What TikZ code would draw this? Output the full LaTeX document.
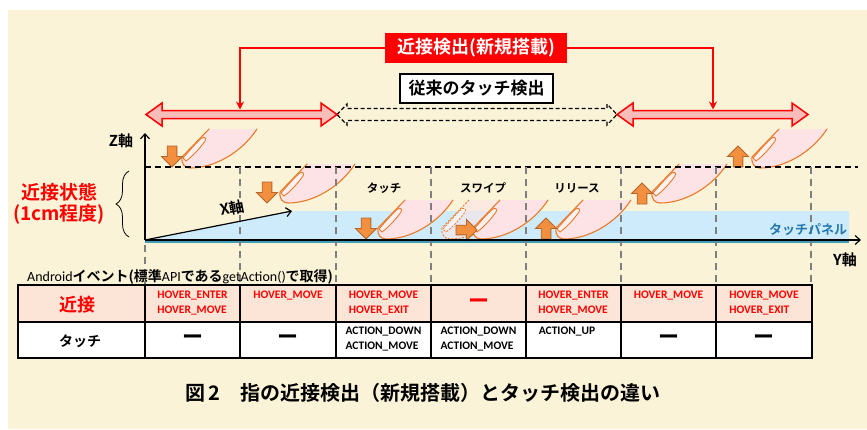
\documentclass[tikz,border=0pt]{standalone}
\usepackage{fontspec}
\setmainfont{Carlito}
\newfontfamily\jp{Noto Sans CJK JP}[BoldFont={* Bold}]
\usetikzlibrary{arrows.meta,decorations.pathreplacing}

\definecolor{cream}{HTML}{FBF3D8}
\definecolor{panelblue}{HTML}{CDEBFB}
\definecolor{panelline}{HTML}{3F9DB8}
\definecolor{paneltext}{HTML}{2378AD}
\definecolor{fingerpink}{HTML}{FDE3E6}
\definecolor{fingerline}{HTML}{EB7A28}
\definecolor{arroworange}{HTML}{F2903F}
\definecolor{arrowedge}{HTML}{B5652A}
\definecolor{peach}{HTML}{FCE4D6}
\definecolor{hatchpink}{HTML}{F8BDB8}
\definecolor{gridgray}{HTML}{7F7F7F}

\newcommand\pxfont[1]{\fontsize{#1}{#1}\selectfont}

\tikzset{
  pics/finger/.style={code={
    \fill[fingerpink] (-8,-11) -- (19,-39) -- (67,-39) .. controls (52,-16) and (25,0) .. (0,0)
      .. controls (-5,0) and (-9,-4) .. (-8,-11) -- cycle;
    \draw[fingerline, line width=1.1pt, line join=round, line cap=round]
      (19,-39) -- (-8,-11) .. controls (-9,-4) and (-5,0) .. (0,0) .. controls (25,0) and (52,-16) .. (67,-39);
    \draw[fingerline, line width=0.9pt, fill=fingerpink!50!white]
      (-7,-10) .. controls (0,-18) and (7,-26) .. (11,-29.5) .. controls (14,-32) and (17,-30) .. (15,-27)
      .. controls (10,-20) and (3,-12) .. (-4,-7) -- cycle;
  }},
  pics/ghostfinger/.style={code={
    \fill[fingerpink, fill opacity=0.6] (-8,-11) -- (19,-39) -- (67,-39) .. controls (52,-16) and (25,0) .. (0,0)
      .. controls (-5,0) and (-9,-4) .. (-8,-11) -- cycle;
    \draw[fingerline, line width=0.9pt, dash pattern=on 2pt off 1.5pt]
      (19,-39) -- (-8,-11) .. controls (-9,-4) and (-5,0) .. (0,0) .. controls (25,0) and (52,-16) .. (67,-39);
    \draw[fingerline, line width=0.8pt, dash pattern=on 2pt off 1.5pt, fill=white, fill opacity=0.5]
      (-7,-10) .. controls (0,-18) and (7,-26) .. (11,-29.5) .. controls (14,-32) and (17,-30) .. (15,-27)
      .. controls (10,-20) and (3,-12) .. (-4,-7) -- cycle;
  }},
  pics/pushdown/.style={code={
    \draw[fill=arroworange, draw=arrowedge, line width=0.9pt, line join=miter]
      (0,0) -- (-10.5,-10.5) -- (-4.8,-10.5) -- (-4.8,-21) -- (4.8,-21) -- (4.8,-10.5) -- (10.5,-10.5) -- cycle;
  }},
  rangebar/.style={draw=red, line width=1.5pt, fill=hatchpink, line join=miter},
  redlink/.style={red, line width=1.5pt, -{Stealth[length=8pt,width=8pt]}},
  axisline/.style={black, line width=1.2pt, -{Straight Barb[length=5pt,width=9pt]}},
  levelline/.style={black, line width=1.2pt, dash pattern=on 6pt off 4pt},
  gridline/.style={gridgray, line width=1.2pt, dash pattern=on 7pt off 5pt},
  jplabel/.style={font=\jp\bfseries\pxfont{#1}, inner sep=0pt},
  cellred/.style={text=red, font=\bfseries\fontsize{11.5}{14.5}\selectfont, align=left, anchor=north, inner sep=0pt},
  cellblack/.style={text=black, font=\bfseries\fontsize{11.5}{14.5}\selectfont, align=left, anchor=north, inner sep=0pt},
  nilmark/.style={font=\jp\bfseries\pxfont{21}, inner sep=0pt},
}

\begin{document}
\begin{tikzpicture}[x=1pt,y=-1pt]
\useasboundingbox (0,0) rectangle (867,429);
\fill[white] (0,0) rectangle (867,429);
\fill[cream] (8,10) rectangle (867,429);

% ---- detection ranges ----
\draw[black, line width=1.2pt, dash pattern=on 4pt off 2.5pt, line join=miter]
  (337,114.5) -- (347,104) -- (347,108.5) -- (607,108.5) -- (607,104) -- (617,114.5)
  -- (607,125) -- (607,120.5) -- (347,120.5) -- (347,125) -- cycle;
\draw[rangebar] (146,114.5) -- (162,103) -- (162,110.5) -- (321,110.5) -- (321,103) -- (337,114.5)
  -- (321,126) -- (321,118.5) -- (162,118.5) -- (162,126) -- cycle;
\draw[rangebar] (617,114.5) -- (633,103) -- (633,110.5) -- (792,110.5) -- (792,103) -- (808,114.5)
  -- (792,126) -- (792,118.5) -- (633,118.5) -- (633,126) -- cycle;

\node[fill=red, text=white, jplabel=18, minimum width=182pt, minimum height=30pt] (proxlabel) at (476,48) {近接検出(新規搭載)};
\node[draw=black, line width=1.2pt, fill=white, jplabel=17, minimum width=153pt, minimum height=29pt] (touchlabel) at (476.5,88.5) {従来のタッチ検出};

\coordinate (leftgoal) at (240,109.5);
\coordinate (rightgoal) at (713,109.5);
\draw[redlink] (proxlabel.west) -| (leftgoal);
\draw[redlink] (proxlabel.east) -| (rightgoal);

% ---- touch panel ----
\coordinate (origin) at (145,240);
\coordinate (ztip) at (145,133);
\coordinate (xtip) at (292,211);
\coordinate (ytip) at (861,240);
\fill[panelblue] (origin) -- (xtip) -- (849,211) -- (849,240) -- cycle;
\draw[panelline, line width=3pt] (145,241.5) -- (849,241.5);

% ---- fingers and motion arrows ----
\pic at (190,168) {finger};
\pic at (288,203) {finger};
\pic at (386,239) {finger};
\pic at (450,239) {ghostfinger};
\pic at (481,239) {finger};
\pic at (564,239) {finger};
\pic at (660,203) {finger};
\pic at (760,168) {finger};

\pic at (172,167) {pushdown};
\pic at (267,203) {pushdown};
\pic at (366,239) {pushdown};
\pic[rotate=90] at (477,230) {pushdown};
\pic[rotate=180] at (546,218) {pushdown};
\pic[rotate=180] at (642,183) {pushdown};
\pic[rotate=180] at (738,146) {pushdown};

% ---- guide lines ----
\draw[levelline] (145,167) -- (858,167);
\foreach \gx in {240,336,431,526,621,716,811}
  \draw[gridline] (\gx,167) -- (\gx,285);
\draw[gridline] (145,245) -- (145,285);

% ---- axes ----
\draw[axisline] (origin) -- (ztip);
\draw[axisline] (origin) -- (ytip);
\draw[axisline] (origin) -- (xtip);
\node[jplabel=15] (zlab) at (121,141) {Z軸};
\node[jplabel=15, rotate=11] (xlab) at (232,208) {X軸};
\node[jplabel=15] (ylab) at (845,260) {Y軸};
\node[jplabel=13, text=paneltext] (panellab) at (808,230) {タッチパネル};

\node[jplabel=11.5] (stagetap) at (384,188) {タッチ};
\node[jplabel=11.5] (stageswipe) at (483,188) {スワイプ};
\node[jplabel=11.5] (stagerelease) at (577,188) {リリース};

\draw[decorate, decoration={brace, amplitude=13pt}, line width=0.8pt] (129,237) -- (129,171);
\node[jplabel=19, text=red] (proxstate) at (59,192) {近接状態};
\node[jplabel=19, text=red] (proxrange) at (59,214) {(1cm程度)};

% ---- event table ----
\node[anchor=base west, inner sep=0pt, font=\pxfont{14}] (evhead) at (27,281)
  {Android{\jp\bfseries イベント(標準}API{\jp\bfseries である}getAction(){\jp\bfseries で取得)}};

\fill[peach] (18,285) rectangle (812,322);
\fill[white] (18,322) rectangle (812,358);
\foreach \cx in {145,240,336,431,526,621,716}
  \draw[line width=1.1pt] (\cx,285) -- (\cx,358);
\draw[line width=1.1pt] (18,322) -- (812,322);
\draw[line width=2pt] (18,285) rectangle (812,358);

\node[jplabel=18, text=red] (rowprox) at (77,305) {近接};
\node[jplabel=14] (rowtouch) at (80,341) {タッチ};

\node[cellred] (p1) at (192.5,291) {HOVER\_ENTER\\HOVER\_MOVE};
\node[cellred] (p2) at (288,291) {HOVER\_MOVE};
\node[cellred] (p3) at (383.5,291) {HOVER\_MOVE\\HOVER\_EXIT};
\node[nilmark, text=red] (p4) at (478.5,304) {ー};
\node[cellred] (p5) at (573.5,291) {HOVER\_ENTER\\HOVER\_MOVE};
\node[cellred] (p6) at (668.5,291) {HOVER\_MOVE};
\node[cellred] (p7) at (764,291) {HOVER\_MOVE\\HOVER\_EXIT};

\node[nilmark] (t1) at (192.5,340) {ー};
\node[nilmark] (t2) at (288,340) {ー};
\node[cellblack] (t3) at (383.5,327) {ACTION\_DOWN\\ACTION\_MOVE};
\node[cellblack] (t4) at (478.5,327) {ACTION\_DOWN\\ACTION\_MOVE};
\node[cellblack] (t5) at (567,327) {ACTION\_UP};
\node[nilmark] (t6) at (668.5,340) {ー};
\node[nilmark] (t7) at (764,340) {ー};

% ---- caption ----
\node[anchor=west, inner sep=0pt, font=\jp\bfseries\pxfont{20}] (caption) at (185,393)
  {図\,2\hspace{20pt}指の近接検出（新規搭載）とタッチ検出の違い};
\end{tikzpicture}
\end{document}
